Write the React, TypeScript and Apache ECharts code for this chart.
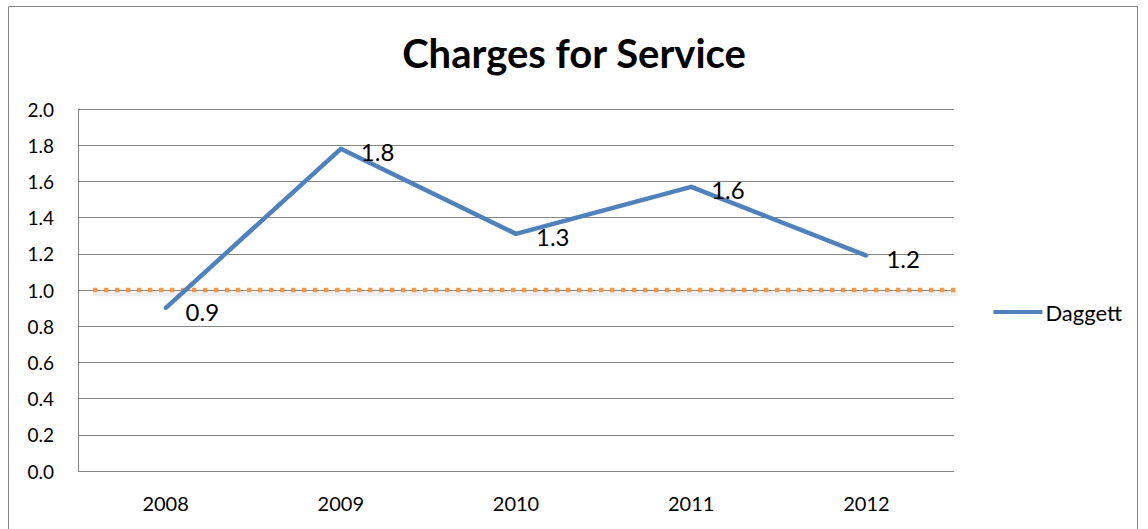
import React, { useEffect, useRef } from "react";
import * as echarts from "echarts";

const categories = ["2008", "2009", "2010", "2011", "2012"];
const daggett = [0.9, 1.78, 1.31, 1.57, 1.19];
const labels = ["0.9", "1.8", "1.3", "1.6", "1.2"];
// benchmark dotted line: [xStart, xEnd, y] on a 0..5 category-span axis
const benchmarkStart = [0.085];
const benchmarkEnd = [5.02];
const benchmarkLevel = [1.0];
const yTicks = { min: 0, max: 2, interval: 0.2 };

const FONT = "Lato, 'Open Sans', sans-serif";

export default function App() {
  const ref = useRef<HTMLDivElement>(null);
  useEffect(() => {
    if (!ref.current) return;
    const chart = echarts.init(ref.current, undefined, { renderer: "svg" });
    chart.setOption({
      animation: false,
      textStyle: { fontFamily: FONT },
      title: {
        text: "Charges for Service",
        left: "center",
        top: 28,
        textStyle: { fontSize: 40, fontWeight: "bold", color: "#000", fontFamily: FONT },
      },
      legend: {
        right: 21,
        top: 296,
        orient: "vertical",
        data: [{ name: "Daggett", icon: "path://M0,0 L50,0 L50,4 L0,4 Z", itemStyle: { color: "#4F81BD" } }],
        itemWidth: 49,
        itemHeight: 4,
        itemGap: 4,
        textStyle: { fontSize: 22, color: "#000", fontFamily: FONT, padding: [0, 0, 0, -2] },
      },
      grid: { left: 78, top: 109, right: 194, bottom: 58, containLabel: false },
      xAxis: [
        {
          type: "category",
          data: categories,
          boundaryGap: true,
          axisLine: { show: false },
          axisTick: { show: false },
          axisLabel: { fontSize: 20, color: "#000", margin: 22, fontFamily: FONT },
        },
        {
          type: "value",
          min: 0,
          max: 5,
          position: "top",
          axisLine: { show: false },
          axisTick: { show: false },
          axisLabel: { show: false },
          splitLine: { show: false },
        },
      ],
      yAxis: {
        type: "value",
        min: yTicks.min,
        max: yTicks.max,
        interval: yTicks.interval,
        axisLine: { show: true, lineStyle: { color: "#868686", width: 1 } },
        axisTick: { show: false },
        splitLine: { lineStyle: { color: "#868686", width: 1 } },
        axisLabel: {
          fontSize: 19,
          color: "#000",
          margin: 24,
          fontFamily: FONT,
          formatter: (v: number) => v.toFixed(1),
        },
      },
      series: [
        {
          name: "Benchmark",
          type: "custom",
          xAxisIndex: 1,
          yAxisIndex: 0,
          clip: false,
          encode: { x: [0, 1], y: 2 },
          data: benchmarkStart.map((s, i) => [s, benchmarkEnd[i], benchmarkLevel[i]]),
          renderItem: (params: any, api: any) => {
            const p0 = api.coord([api.value(0), api.value(2)]);
            const p1 = api.coord([api.value(1), api.value(2)]);
            return {
              type: "group",
              children: [
                {
                  type: "rect",
                  shape: { x: p0[0], y: p0[1] + 2, width: p1[0] - p0[0], height: 4 },
                  style: {
                    fill: "rgba(0,0,0,0.06)",
                    shadowColor: "rgba(0,0,0,0.25)",
                    shadowBlur: 5,
                    shadowOffsetY: 1,
                  },
                },
                {
                  type: "line",
                  shape: { x1: p0[0], y1: p0[1], x2: p1[0], y2: p1[1] },
                  style: {
                    stroke: "#F79646",
                    lineWidth: 4.5,
                    lineDash: [4.5, 6.5],
                    lineCap: "butt",
                  },
                },
              ],
            };
          },
          z: 3,
        },
        {
          name: "Daggett",
          type: "line",
          data: daggett,
          symbol: "circle",
          symbolSize: 4,
          showSymbol: true,
          lineStyle: { color: "#4F81BD", width: 4.5 },
          itemStyle: { color: "#4F81BD" },
          label: {
            show: true,
            position: "right",
            distance: 18,
            offset: [0, 3],
            fontSize: 24,
            color: "#000",
            fontFamily: FONT,
            formatter: (p: any) => labels[p.dataIndex],
          },
          z: 4,
        },
      ],
      graphic: [
        {
          type: "rect",
          shape: { x: 8.5, y: 6.5, width: 1129, height: 540 },
          style: { fill: "none", stroke: "#868686", lineWidth: 1 },
          silent: true,
        },
      ],
    });
    return () => chart.dispose();
  }, []);
  return (
    <div
      ref={ref}
      style={{ position: "absolute", left: 0, top: 0, width: 1148, height: 529, background: "#fff" }}
    />
  );
}
